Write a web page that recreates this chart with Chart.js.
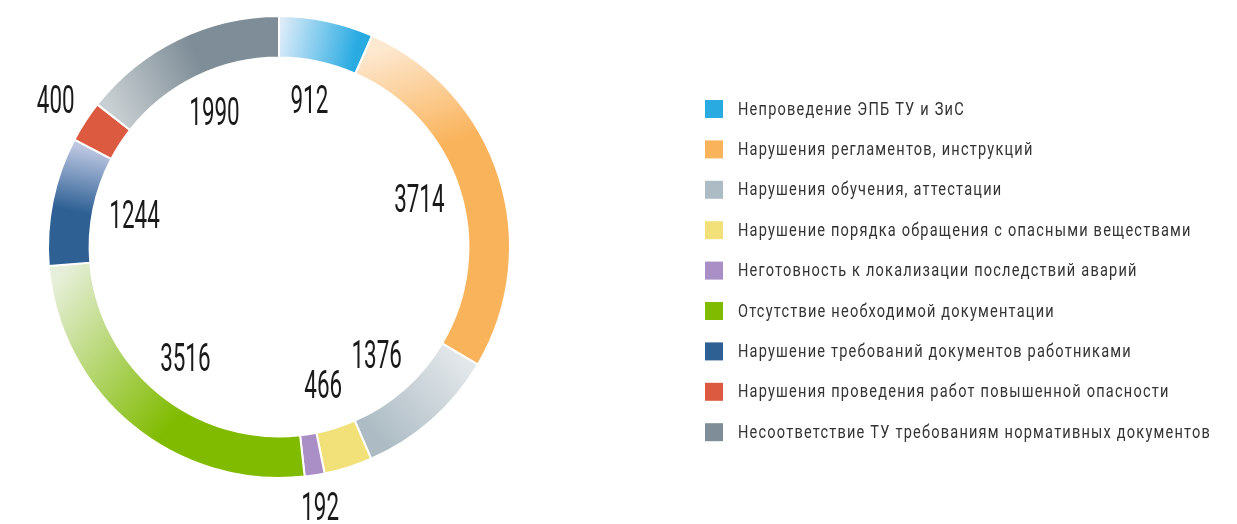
<!DOCTYPE html>
<html><head><meta charset="utf-8">
<script src="https://cdn.jsdelivr.net/npm/chart.js@4"></script>
<style>html,body{margin:0;padding:0;background:#fff}#wrap{width:1237px;height:524px;position:relative}</style>
</head><body><div id="wrap"><canvas id="c" width="1237" height="524"></canvas></div>
<script>
const categories = [
  "Непроведение ЭПБ ТУ и ЗиС",
  "Нарушения регламентов, инструкций",
  "Нарушения обучения, аттестации",
  "Нарушение порядка обращения с опасными веществами",
  "Неготовность к локализации последствий аварий",
  "Отсутствие необходимой документации",
  "Нарушение требований документов работниками",
  "Нарушения проведения работ повышенной опасности",
  "Несоответствие ТУ требованиям нормативных документов"
];
const values = [912, 3714, 1376, 466, 192, 3516, 1244, 400, 1990];
const colors = ["#29abe2", "#f9b35b", "#adbcc4", "#f2e079", "#a98fc5", "#80bb00", "#2e6094", "#dc5a3f", "#7e8d97"];
const lightColors = ["#dcebf8", "#fde8d0", "#e3e8eb", null, null, "#e6efd9", "#bcc6e1", null, "#c9d0d3"];
// gradient: which end is light ('start'/'end') and where full colour is reached
const gradLight = ["start", "start", "start", null, null, "end", "end", null, "start"];
const gradFull = [0.9, 0.35, 0.9, 0, 0, 0.6, 0.55, 0, 0.55];
const labelOutside = [false, false, false, false, true, false, false, true, false];

const labelFont = "400 38px Roboto, 'Liberation Sans', sans-serif";
const legendFont = "18px Roboto, 'Liberation Sans', sans-serif";

const gradientPlugin = {
  id: 'segGrad',
  beforeDatasetDraw(chart) {
    const ctx = chart.ctx;
    const meta = chart.getDatasetMeta(0);
    meta.data.forEach((arc, i) => {
      if (!lightColors[i]) return;
      const r = (arc.innerRadius + arc.outerRadius) / 2;
      const ps = [arc.x + r * Math.cos(arc.startAngle), arc.y + r * Math.sin(arc.startAngle)];
      const pe = [arc.x + r * Math.cos(arc.endAngle), arc.y + r * Math.sin(arc.endAngle)];
      const a = gradLight[i] === 'start' ? ps : pe;
      const b = gradLight[i] === 'start' ? pe : ps;
      const g = ctx.createLinearGradient(a[0], a[1], b[0], b[1]);
      g.addColorStop(0, lightColors[i]);
      g.addColorStop(gradFull[i], colors[i]);
      g.addColorStop(1, colors[i]);
      arc.options.backgroundColor = g;
    });
  }
};

const labelPlugin = {
  id: 'segLabels',
  afterDatasetsDraw(chart) {
    const ctx = chart.ctx;
    const meta = chart.getDatasetMeta(0);
    ctx.save();
    ctx.font = labelFont;
    const w0 = ctx.measureText("0").width;
    const sx = 12.6 / w0;
    ctx.fillStyle = "#1a1a1a";
    ctx.textAlign = "center";
    ctx.textBaseline = "middle";
    meta.data.forEach((arc, i) => {
      const mid = (arc.startAngle + arc.endAngle) / 2;
      const r = labelOutside[i] ? arc.outerRadius + 35 : arc.innerRadius - 42;
      const x = arc.x + r * Math.cos(mid);
      const y = arc.y + r * Math.sin(mid);
      ctx.save();
      ctx.translate(x, y + 1);
      ctx.scale(sx, 1);
      ctx.fillText(String(values[i]), 0, 0);
      ctx.restore();
    });
    ctx.restore();
  }
};

const legendPlugin = {
  id: 'sideLegend',
  afterDraw(chart) {
    const ctx = chart.ctx;
    ctx.save();
    ctx.font = legendFont;
    ctx.letterSpacing = "1.5px";
    ctx.textBaseline = "middle";
    ctx.textAlign = "left";
    const longest = ctx.measureText(categories[8]).width;
    const sx = 473 / longest;
    categories.forEach((c, i) => {
      const y = 109 + i * 40.4;
      ctx.fillStyle = colors[i];
      ctx.fillRect(705, y - 9, 18, 18);
      ctx.fillStyle = "#333333";
      ctx.save();
      ctx.translate(738, y + 1);
      ctx.scale(sx, 1);
      ctx.fillText(c, 0, 0);
      ctx.restore();
    });
    ctx.restore();
  }
};

new Chart(document.getElementById('c'), {
  type: 'doughnut',
  data: {
    labels: categories,
    datasets: [{
      data: values,
      backgroundColor: colors,
      borderColor: '#ffffff',
      borderWidth: 2,
      hoverBorderWidth: 2,
      hoverOffset: 0
    }]
  },
  options: {
    responsive: false,
    animation: false,
    events: [],
    cutout: '82%',
    layout: { padding: { left: 47, top: 15, right: 726, bottom: 45 } },
    plugins: { legend: { display: false }, tooltip: { enabled: false } }
  },
  plugins: [gradientPlugin, labelPlugin, legendPlugin]
});
</script></body></html>
